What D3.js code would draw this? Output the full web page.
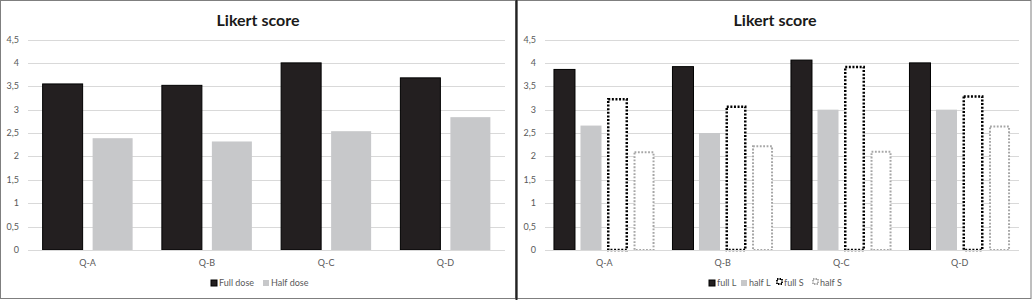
<!DOCTYPE html>
<html>
<head>
<meta charset="utf-8">
<script src="https://cdn.jsdelivr.net/npm/d3@7"></script>
<style>
  body { margin: 0; background: #fff; }
  svg { display: block; font-family: Lato, "Open Sans", sans-serif; }
</style>
</head>
<body>
<div id="chart"></div>
<script>
const categories = ["Q-A", "Q-B", "Q-C", "Q-D"]
const yTicks = [0, 0.5, 1, 1.5, 2, 2.5, 3, 3.5, 4, 4.5]
const yTickLabels = ["0", "0,5", "1", "1,5", "2", "2,5", "3", "3,5", "4", "4,5"]

// left chart
const leftSeries = ["Full dose", "Half dose"]
const fullDose = [3.55, 3.52, 4.0, 3.68]
const halfDose = [2.39, 2.32, 2.54, 2.84]

// right chart
const rightSeries = ["full L", "half L", "full S", "half S"]
const fullL = [3.86, 3.92, 4.06, 4.0]
const halfL = [2.66, 2.5, 3.0, 3.0]
const fullS = [3.25, 3.09, 3.94, 3.31]
const halfS = [2.11, 2.24, 2.12, 2.66]

const width = 1032
const height = 300

const styles = {
    "Full dose": {fill: "#231f20", stroke: "#000", sw: 1, dash: null},
    "Half dose": {fill: "#c7c8ca", stroke: "none", sw: 0, dash: null},
    "full L": {fill: "#231f20", stroke: "#000", sw: 1, dash: null},
    "half L": {fill: "#c7c8ca", stroke: "none", sw: 0, dash: null},
    "full S": {fill: "#fff", stroke: "#000", sw: 2.5, dash: "2,1.6"},
    "half S": {fill: "#fff", stroke: "#a6a6a6", sw: 2, dash: "1.8,1.6"}
}

const svg = d3.select("#chart")
    .append("svg")
    .attr("width", width)
    .attr("height", height)
    .attr("viewBox", [0, 0, width, height])

// panel frames
svg.append("rect")
    .attr("x", 0.5).attr("y", 0.5)
    .attr("width", 515).attr("height", 298)
    .attr("fill", "#fff")
    .attr("stroke", "#7f7f7f")
svg.append("rect")
    .attr("x", 517).attr("y", 0.5)
    .attr("width", 514).attr("height", 298)
    .attr("fill", "#fff")
    .attr("stroke", "#7f7f7f")
svg.append("line")
    .attr("x1", 516.5).attr("x2", 516.5)
    .attr("y1", 0).attr("y2", 300)
    .attr("stroke", "#222")
    .attr("stroke-width", 2)

const drawPanel = function (opt) {
    const g = svg.append("g")
    const y = d3.scaleLinear()
        .domain([0, 4.5])
        .range([250, 39.5])

    const x0 = d3.scaleBand()
        .domain(categories)
        .range([opt.left, opt.right])

    const x1 = d3.scaleBand()
        .domain(opt.series)
        .range([0, x0.bandwidth()])
        .paddingInner(opt.pi)
        .paddingOuter(opt.po)

    // title
    g.append("text")
        .attr("x", opt.titleX)
        .attr("y", 26)
        .attr("text-anchor", "middle")
        .attr("font-size", 16)
        .attr("font-weight", "bold")
        .attr("fill", "#1a1a1a")
        .text("Likert score")

    // grid
    g.append("g")
        .selectAll("line")
        .data(yTicks)
        .join("line")
        .attr("x1", opt.left)
        .attr("x2", opt.right)
        .attr("y1", d => Math.round(y(d)) + 0.5)
        .attr("y2", d => Math.round(y(d)) + 0.5)
        .attr("stroke", "#d9d9d9")

    // y axis labels
    g.append("g")
        .selectAll("text")
        .data(yTicks)
        .join("text")
        .attr("x", opt.left - 9)
        .attr("y", d => y(d) + 3)
        .attr("text-anchor", "end")
        .attr("font-size", 9)
        .attr("fill", "#595959")
        .text((d, i) => yTickLabels[i])

    // bars
    opt.series.forEach((s, si) => {
        const st = styles[s]
        const inset = st.sw > 1 ? st.sw / 2 : 0
        g.append("g")
            .selectAll("rect")
            .data(opt.values[si])
            .join("rect")
            .attr("x", (d, i) => x0(categories[i]) + x1(s) + inset)
            .attr("y", d => y(d) + inset)
            .attr("width", x1.bandwidth() - 2 * inset)
            .attr("height", d => y(0) - y(d) - inset)
            .attr("fill", st.fill)
            .attr("stroke", st.stroke)
            .attr("stroke-width", st.sw)
            .attr("stroke-dasharray", st.dash)
    })

    // x axis
    g.append("line")
        .attr("x1", opt.left).attr("x2", opt.right)
        .attr("y1", 250.5).attr("y2", 250.5)
        .attr("stroke", "#d9d9d9")

    g.append("g")
        .selectAll("text")
        .data(categories)
        .join("text")
        .attr("x", d => x0(d) + x0.bandwidth() / 2)
        .attr("y", 266)
        .attr("text-anchor", "middle")
        .attr("font-size", 9)
        .attr("fill", "#595959")
        .text(d => d)

    // legend
    const leg = g.append("g")
        .selectAll("g")
        .data(opt.series)
        .join("g")
        .attr("transform", (d, i) => `translate(${opt.legendX[i]},0)`)
    leg.append("rect")
        .attr("x", d => styles[d].sw > 1 ? 1 : 0)
        .attr("y", d => styles[d].sw > 1 ? 279 : 280)
        .attr("width", d => styles[d].sw > 1 ? 5 : 6)
        .attr("height", d => styles[d].sw > 1 ? 5 : 6)
        .attr("fill", d => styles[d].fill)
        .attr("stroke", d => styles[d].stroke)
        .attr("stroke-width", d => Math.min(styles[d].sw, 1.8))
        .attr("stroke-dasharray", d => styles[d].dash ? "1.5,1" : null)
    leg.append("text")
        .attr("x", 8)
        .attr("y", 286)
        .attr("font-size", 9)
        .attr("fill", "#595959")
        .text(d => d)
}

drawPanel({
    left: 28, right: 505, titleX: 258,
    series: leftSeries,
    values: [fullDose, halfDose],
    pi: 0.2, po: 0.2925,
    legendX: [211, 263]
})

drawPanel({
    left: 545, right: 1019, titleX: 775,
    series: rightSeries,
    values: [fullL, halfL, fullS, halfS],
    pi: 0.2075, po: 0.338,
    legendX: [709, 741, 776, 812]
})
</script>
</body>
</html>
